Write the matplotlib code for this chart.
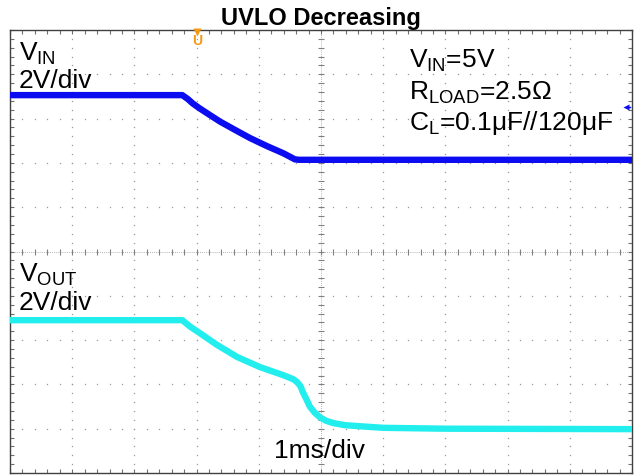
#!/usr/bin/env python3
"""Scope capture: UVLO decreasing, VIN and VOUT traces."""

import numpy as np
import matplotlib
matplotlib.use("Agg")
import matplotlib.pyplot as plt

plt.rcParams["font.family"] = ["Liberation Sans", "DejaVu Sans"]
plt.rcParams["mathtext.fontset"] = "custom"
plt.rcParams["mathtext.rm"] = "Liberation Sans"
plt.rcParams["mathtext.it"] = "Liberation Sans:italic"

# time in divisions (1 ms/div), screen centre = 0; trace levels in divisions (0 = bottom)
vin_t = [-5.0, -2.23, -2.14, -2.06, -1.95, -1.83, -1.62, -1.35, -1.14,
         -0.87, -0.61, -0.50, -0.42, -0.35, 5.0]
vin_y = [8.53, 8.53, 8.44, 8.34, 8.23, 8.12, 7.93, 7.72, 7.56,
         7.38, 7.22, 7.14, 7.08, 7.07, 7.07]

vout_t = [-5.0, -2.23, -2.10, -1.95, -1.67, -1.35, -0.98, -0.61, -0.45, -0.39,
          -0.33, -0.29, -0.23, -0.18, -0.10, -0.02, 0.08, 0.19, 0.38, 0.58,
          1.00, 2.00, 5.0]
vout_y = [3.45, 3.45, 3.30, 3.16, 2.89, 2.62, 2.39, 2.21, 2.12, 2.06,
          1.96, 1.82, 1.65, 1.50, 1.36, 1.26, 1.18, 1.13, 1.08, 1.06,
          1.02, 1.00, 0.99]

trig_t = -1.99      # trigger position marker (top)
trig_level = 8.26   # trigger level marker (right edge)

BLUE = "#0c0cf0"
CYAN = "#22eeee"
ORANGE = "#f59a10"
GRID = "#9a9a9a"
FRAME = "#404040"

fig = plt.figure(figsize=(6.35, 4.75), dpi=100)
ax = fig.add_axes([10 / 635, 2 / 475, 622 / 635, 443 / 475])
ax.set_xlim(-5, 5)
ax.set_ylim(0, 10)

# dotted graticule
fine_x = np.arange(-5, 5.001, 0.2)
fine_y = np.arange(0, 10.001, 0.2)
for gx in range(-4, 5):
    if gx == 0:
        continue
    ax.plot([gx] * len(fine_y), fine_y, ls="none", marker="s", ms=0.9,
            mec="none", color=GRID, zorder=1)
for gy in range(1, 10):
    if gy == 5:
        continue
    ax.plot(fine_x, [gy] * len(fine_x), ls="none", marker="s", ms=0.9,
            mec="none", color=GRID, zorder=1)

# centre cross with fine ticks
ax.axvline(0, color=GRID, lw=0.6, ls=(0, (1, 1.5)), zorder=1)
ax.axhline(5, color=GRID, lw=0.6, ls=(0, (1, 1.5)), zorder=1)
ax.plot(fine_x, [5] * len(fine_x), ls="none", marker="|", ms=4, mew=0.8,
        color="#808080", zorder=1)
ax.plot([0] * len(fine_y), fine_y, ls="none", marker="_", ms=4, mew=0.8,
        color="#808080", zorder=1)

# traces
ax.plot(vin_t, vin_y, color=BLUE, lw=4.6, solid_joinstyle="round", zorder=3)
ax.plot(vout_t, vout_y, color=CYAN, lw=4.6, solid_joinstyle="round", zorder=3)

# markers
ax.plot([trig_t], [9.96], marker="v", ms=6, color=ORANGE, mec="none",
        clip_on=False, zorder=4)
ax.text(trig_t, 9.76, "U", color=ORANGE, fontsize=10, fontweight="bold",
        ha="center", va="center", zorder=4)
ax.plot([4.9], [trig_level], marker="<", ms=4, color=BLUE, mec="none", zorder=4)
ax.plot([4.9, 4.97], [trig_level, trig_level], color=BLUE, lw=1, zorder=4)

# frame & ticks
for s in ax.spines.values():
    s.set_color(FRAME)
    s.set_linewidth(1.0)
ax.set_xticks(fine_x)
ax.set_yticks(fine_y)
ax.tick_params(which="both", direction="in", length=3, width=0.8,
               color="#707070", top=True, right=True,
               labelbottom=False, labelleft=False)

# labels
fs = 19
ax.text(-4.86, 9.31, r"V$_\mathrm{IN}$", fontsize=fs, ha="left", va="baseline")
ax.text(-4.86, 8.69, "2V/div", fontsize=fs, ha="left", va="baseline")
ax.text(-4.86, 4.31, r"V$_\mathrm{OUT}$", fontsize=fs, ha="left", va="baseline")
ax.text(-4.86, 3.68, "2V/div", fontsize=fs, ha="left", va="baseline")
ax.text(1.42, 9.14, r"V$_\mathrm{IN}$=5V", fontsize=fs, ha="left", va="baseline")
ax.text(1.42, 8.42, r"R$_\mathrm{LOAD}$=2.5Ω", fontsize=fs, ha="left", va="baseline")
ax.text(1.42, 7.74, r"C$_\mathrm{L}$=0.1μF//120μF", fontsize=fs, ha="left", va="baseline")
ax.text(-0.02, 0.34, "1ms/div", fontsize=fs, ha="center", va="baseline")

fig.text(321 / 635, 1 - 25 / 475, "UVLO Decreasing", fontsize=17,
         fontweight="bold", ha="center", va="baseline")

fig.savefig("out.png", dpi=100)
